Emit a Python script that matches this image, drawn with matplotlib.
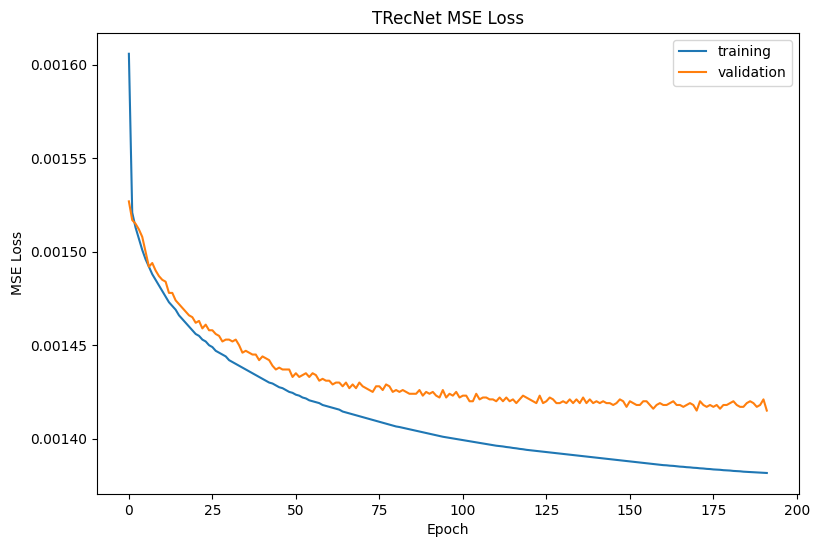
import matplotlib
matplotlib.use("Agg")
import matplotlib.pyplot as plt
import numpy as np

train = [160.6,152.1,151.3,150.7,150.1,149.6,149.2,148.8,148.5,148.2,
147.9,147.6,147.3,147.1,146.9,146.6,146.4,146.2,146.0,145.8,
145.6,145.5,145.3,145.2,145.0,144.9,144.7,144.6,144.5,144.4,
144.2,144.1,144.0,143.9,143.8,143.7,143.6,143.5,143.4,143.3,
143.2,143.1,143.0,142.95,142.85,142.75,142.7,142.6,142.5,142.45,
142.35,142.3,142.2,142.15,142.05,142.0,141.95,141.9,141.8,141.75,
141.7,141.65,141.6,141.55,141.45,141.4,141.35,141.3,141.25,141.2,
141.15,141.1,141.05,141.0,140.95,140.9,140.85,140.8,140.75,140.7,
140.65,140.62,140.58,140.54,140.5,140.46,140.42,140.38,140.34,140.3,
140.26,140.22,140.18,140.14,140.1,140.07,140.04,140.01,139.98,139.95,
139.92,139.89,139.86,139.83,139.8,139.77,139.74,139.71,139.68,139.65,
139.62,139.6,139.58,139.55,139.53,139.5,139.48,139.45,139.43,139.4,
139.38,139.36,139.34,139.32,139.3,139.28,139.26,139.24,139.22,139.2,
139.18,139.16,139.14,139.12,139.1,139.08,139.06,139.04,139.02,139.0,
138.98,138.96,138.94,138.92,138.9,138.88,138.86,138.84,138.82,138.8,
138.78,138.76,138.74,138.72,138.7,138.68,138.66,138.64,138.62,138.6,
138.58,138.57,138.55,138.54,138.52,138.5,138.49,138.47,138.46,138.44,
138.43,138.41,138.4,138.38,138.37,138.35,138.34,138.33,138.31,138.3,
138.29,138.27,138.26,138.25,138.23,138.22,138.21,138.2,138.19,138.18,
138.17,138.16]

validation = [152.7,151.7,151.5,151.2,150.8,150.0,149.2,149.4,149.0,148.7,
148.5,148.4,147.8,147.8,147.4,147.2,147.0,146.8,146.6,146.5,
146.2,146.3,145.9,146.1,145.8,145.8,145.6,145.5,145.2,145.3,
145.3,145.2,145.3,145.0,144.6,144.7,144.6,144.5,144.5,144.2,
144.4,144.3,144.2,143.9,143.7,143.8,143.7,143.7,143.7,143.3,
143.5,143.3,143.4,143.5,143.3,143.5,143.4,143.1,143.2,143.1,
143.1,142.9,143.0,143.0,142.8,143.0,142.7,142.9,142.7,143.0,
142.8,142.7,142.6,142.5,142.8,142.8,142.6,142.9,142.8,142.5,
142.6,142.5,142.6,142.5,142.4,142.4,142.4,142.6,142.3,142.5,
142.4,142.5,142.3,142.2,142.6,142.2,142.4,142.3,142.5,142.2,
142.3,142.3,142.0,142.0,142.4,142.1,142.2,142.2,142.1,142.1,
142.0,142.2,142.0,142.2,142.0,142.1,141.9,142.1,142.3,142.2,
142.1,142.0,141.9,142.3,141.9,142.0,142.2,142.1,141.9,141.9,
142.0,141.9,142.1,141.9,142.1,141.9,142.2,141.9,142.1,141.9,
142.0,141.9,142.0,141.9,141.9,141.8,141.9,142.1,142.0,141.7,
142.0,141.9,141.8,141.8,142.0,142.0,141.8,141.6,141.8,141.9,
141.8,141.8,141.9,142.0,141.8,141.8,141.7,141.8,141.9,141.8,
141.5,142.0,141.8,141.7,141.8,141.7,141.8,141.6,141.8,141.8,
141.9,142.0,141.8,141.7,141.7,141.9,142.0,141.9,141.7,141.8,
142.1,141.5]

scale = 1e-5
epochs = np.arange(len(train))

fig, ax = plt.subplots(figsize=(8.15, 5.47), dpi=100)
fig.subplots_adjust(left=0.119, right=0.98, top=0.94, bottom=0.097)
ax.plot(epochs, np.array(train) * scale, label="training")
ax.plot(np.arange(len(validation)), np.array(validation) * scale, label="validation")
ax.set_title("TRecNet MSE Loss")
ax.set_xlabel("Epoch")
ax.set_ylabel("MSE Loss")
ax.set_xticks([0, 25, 50, 75, 100, 125, 150, 175, 200])
ax.legend(loc="upper right")
fig.savefig("out.png", dpi=100)
